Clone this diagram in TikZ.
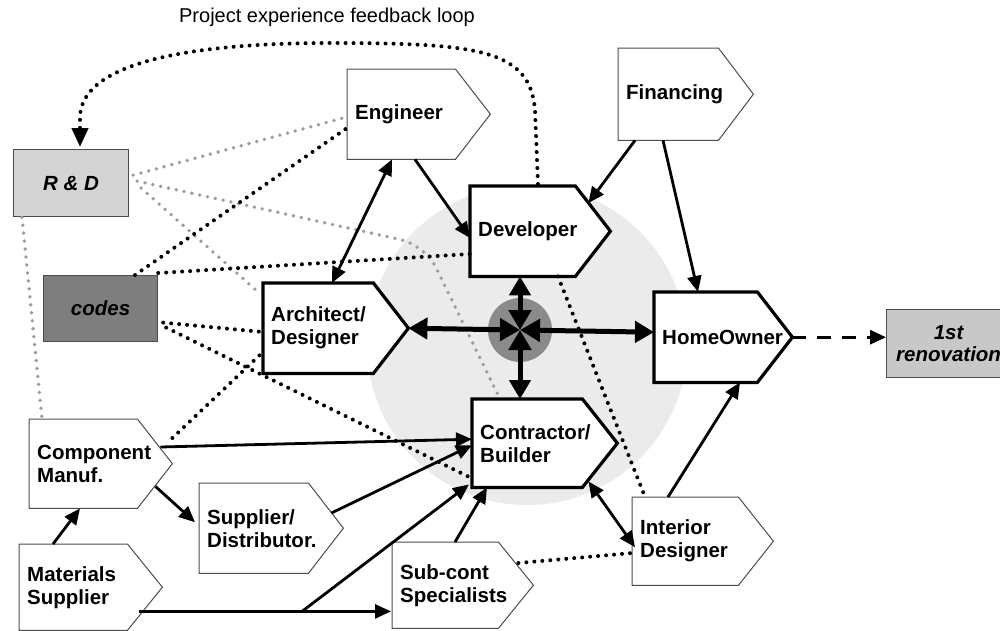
\documentclass[tikz,border=0pt]{standalone}
\usepackage{fontspec}
\setmainfont{Liberation Sans}
\usetikzlibrary{arrows.meta,calc}
\pgfdeclarelayer{back}
\pgfdeclarelayer{shapes}
\pgfsetlayers{back,shapes,main}
\definecolor{rdfill}{HTML}{D4D4D4}
\definecolor{codesfill}{HTML}{7E7E7E}
\definecolor{renfill}{HTML}{C8C8C8}
\definecolor{hubfill}{HTML}{8A8A8A}
\definecolor{halo}{HTML}{EBEBEB}
\definecolor{gdotc}{HTML}{9C9C9C}
\hyphenpenalty=10000
\exhyphenpenalty=10000
\tikzset{
  lbl/.style={font=\fontsize{20.5}{23}\selectfont\bfseries},
  body/.style={anchor=north west, inner xsep=8pt, inner ysep=0pt, align=flush left, lbl},
  thinshape/.style={draw=black!70, line width=1pt, fill=white},
  thickshape/.style={draw=black, line width=3.2pt, fill=white, line join=miter},
  rectbox/.style={anchor=north west, draw=black!70, line width=1.2pt, inner sep=0pt,
    font=\fontsize{20.5}{22}\selectfont\bfseries\itshape},
  arr/.style={line width=2.8pt, -{Triangle[length=16pt,width=14pt]}},
  arrtwo/.style={line width=2.8pt, {Triangle[length=16pt,width=14pt]}-{Triangle[length=16pt,width=14pt]}},
  hubarr/.style={line width=5pt, {Triangle[length=20pt,width=22pt]}-{Triangle[length=19pt,width=21pt]}},
  dsh/.style={line width=3pt, dash pattern=on 14pt off 11pt, -{Triangle[length=16pt,width=14pt]}},
  bdot/.style={line width=4pt, dash pattern=on 0pt off 8pt, line cap=round},
  gdot/.style={line width=3.8pt, draw=gdotc, dash pattern=on 0pt off 8pt, line cap=round},
}
\newcommand\pshape[8]{%
  \node[body, minimum width=#5pt, minimum height=#6pt, text width=#7pt] (#2) at (#3,#4) {#8};
  \begin{pgfonlayer}{shapes}
  \path[#1] (#2.north west) -- (#2.north east) -- ($(#2.east)+(35,0)$) -- (#2.south east) -- (#2.south west) -- cycle;
  \end{pgfonlayer}}
\begin{document}
\begin{tikzpicture}[x=1pt,y=-1pt]
\useasboundingbox (0,0) rectangle (1000,630);
\begin{pgfonlayer}{back}
\fill[halo] (527,345) circle[radius=160pt];
\end{pgfonlayer}
\node[font=\fontsize{20}{22}\selectfont] (title) at (327,17) {Project experience feedback loop};

\pshape{thinshape}{eng}{347}{69}{108}{90}{92}{Engineer}
\pshape{thinshape}{fin}{618}{48}{100}{92}{84}{Financing}
\pshape{thickshape}{dev}{470}{186}{105}{90}{89}{Developer}
\pshape{thickshape}{arch}{263}{283}{110}{90}{94}{Architect/\\Designer}
\pshape{thickshape}{home}{654}{292}{103}{90}{87}{HomeOwner}
\pshape{thickshape}{con}{472}{399}{110}{88}{94}{Contractor/\\Builder}
\pshape{thinshape}{int}{632}{497}{106}{88}{90}{Interior\\Designer}
\pshape{thinshape}{sub}{392}{542}{106}{86}{90}{Sub-cont\\Specialists}
\pshape{thinshape}{sup}{199}{483}{109}{90}{93}{Supplier/\\Distributor.}
\pshape{thinshape}{comp}{29}{419}{108}{89}{92}{Component\\Manuf.}
\pshape{thinshape}{mat}{19}{544}{108}{86}{92}{Materials\\Supplier}

\node[rectbox, fill=rdfill, minimum width=115pt, minimum height=67pt] (rd) at (13,149) {R \& D};
\node[rectbox, fill=codesfill, minimum width=114pt, minimum height=66pt] (codes) at (43,275) {codes};
\node[rectbox, fill=renfill, minimum width=124pt, minimum height=68pt, align=center] (ren) at (886,309) {1st\\renovation};

\node[circle, fill=hubfill, minimum size=64pt, inner sep=0pt] (hub) at (520,330) {};

% grey dotted links from R&D
\draw[gdot] ($(rd.east)+(4,-8)$) -- ($(eng.west)+(-1,3)$);
\draw[gdot, rounded corners=25pt] ($(rd.east)+(8,-2)$) -- (425,245) -- ($(con.north west)+(28,0)$);
\draw[gdot] ($(rd.east)+(12,5)$) -- ($(arch.north west)+(-6,8)$);
\draw[gdot] ($(rd.south west)+(9,0)$) -- ($(comp.north west)+(13,0)$);

% black dotted links
\draw[bdot, -{Triangle[length=19pt,width=16pt]}] ($(dev.north west)+(68,-2)$) -- (535,110)
  .. controls (530,50) and (480,43) .. (330,43)
  .. controls (200,43) and (80,60) .. (80,118) -- ($(rd.north west)+(67,-2)$);
\draw[bdot] ($(codes.north west)+(92,0)$) -- ($(eng.north west)+(0,59)$);
\draw[bdot] ($(codes.north east)+(0,-2)$) -- ($(dev.north west)+(0,68)$);
\draw[bdot] ($(codes.east)+(5,14)$) -- ($(arch.north west)+(0,49)$);
\draw[bdot] ($(codes.east)+(8,19)$) -- ($(con.south west)+(-2,-10)$);
\draw[bdot] ($(comp.north east)+(35,19)$) -- ($(arch.north west)+(0,69)$);
\draw[bdot] ($(dev.south west)+(88,0)$) -- ($(int.north west)+(13,0)$);
\draw[bdot] ($(sub.north east)+(20,21)$) -- ($(int.west)+(-2,12)$);

% solid arrows
\draw[arrtwo] ($(eng.south west)+(45,0)$) -- ($(arch.north west)+(69,0)$);
\draw[arr] ($(eng.south west)+(68,0)$) -- ($(dev.north west)+(0,52)$);
\draw[arr] ($(fin.south west)+(17,0)$) -- ($(dev.north east)+(13,17)$);
\draw[arr] ($(fin.south west)+(45,0)$) -- ($(home.north west)+(44,0)$);
\coordinate (htip) at ($(home.east)+(35,0)$);
\draw[dsh] (htip) -- (htip -| ren.west);
\draw[arr] ($(comp.north east)+(23,28)$) -- ($(con.west)+(0,-4)$);
\draw[arr] ($(comp.south east)+(18,-22)$) -- ($(sup.west)+(-4,-6)$);
\draw[arr] ($(sup.north east)+(23,30)$) -- ($(con.west)+(0,2)$);
\draw[arr] ($(mat.south west)+(120,-19)$) -- ($(sub.south west)+(-1,-17)$);
\coordinate (br) at ($(mat.south west)+(283,-19)$);
\draw[arr] (br) -- ($(con.south west)+(-3,-3)$);
\draw[arr] ($(sub.north west)+(63,0)$) -- ($(con.south west)+(15,0)$);
\draw[arr] ($(mat.north west)+(34,0)$) -- ($(comp.south west)+(51,0)$);
\draw[arrtwo] ($(con.south east)+(6,-6)$) -- ($(int.west)+(3,6)$);
\draw[arr] ($(int.north west)+(36,0)$) -- ($(home.south west)+(86,0)$);

% hub arrows
\draw[hubarr] (hub.center) -- ($(dev.south west)+(50,0)$);
\draw[hubarr] (hub.center) -- ($(con.north west)+(48,0)$);
\draw[hubarr] (hub.center) -- ($(arch.east)+(35,0)$);
\draw[hubarr] (hub.center) -- ($(home.west)+(0,-5)$);
\end{tikzpicture}
\end{document}
